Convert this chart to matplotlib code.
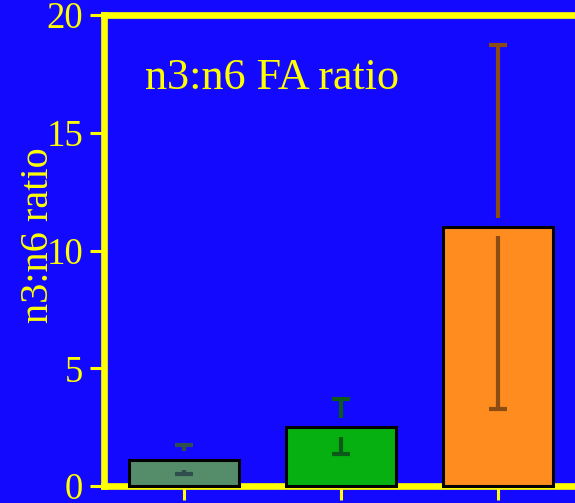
import numpy as np
import matplotlib
matplotlib.use('Agg')
import matplotlib.pyplot as plt

# n3:n6 fatty acid ratio, mean and spread per group
groups = ['A', 'B', 'C']
means = [1.1, 2.5, 11.0]
err_hi = [1.75, 3.7, 18.75]
err_lo = [0.5, 1.35, 3.25]
yticks = [0, 5, 10, 15, 20]

fill_cols = ['#558C69', '#06B010', '#FF8C1E']
err_cols = ['#2F4F4F', '#0B5A1A', '#8B4C14']
bg = '#1409FF'
fg = '#FFFF00'

plt.rcParams['font.family'] = ['Liberation Serif', 'DejaVu Serif']

fig = plt.figure(figsize=(5.75, 5.03), dpi=100, facecolor=bg)
ax = fig.add_axes([0.181, 0.0338, 0.849, 0.936], facecolor=bg)

x = np.arange(len(groups))
ax.bar(x, means, width=0.7, color=fill_cols, edgecolor='black',
       linewidth=2.2, zorder=3, clip_on=False)

# error bars leave a small gap around the bar top
gap = 0.4
for xi, m, hi, lo, c in zip(x, means, err_hi, err_lo, err_cols):
    ax.vlines(xi, m + gap, hi, color=c, lw=3, zorder=4)
    ax.vlines(xi, lo, m - gap, color=c, lw=3, zorder=4)
    ax.plot([xi, xi], [hi, lo], ls='none', marker='_', ms=13, mew=3,
            color=c, zorder=4)

ax.set_xlim(-0.51, 2.6)
ax.set_ylim(0, 20)
ax.set_yticks(yticks)
ax.set_xticks(x)
ax.set_xticklabels([])

for s in ax.spines.values():
    s.set_color(fg)
    s.set_linewidth(4.8)
ax.tick_params(colors=fg, labelsize=26.5, width=2.2, length=10, pad=5)

ax.text(0.084, 0.843, 'n3:n6 FA ratio', transform=ax.transAxes,
        color=fg, fontsize=31.8, va='baseline', ha='left')

ax.set_ylabel('n3:n6 ratio', color=fg, fontsize=29, va='center')
ax.yaxis.set_label_coords(0.067, 0.533, transform=fig.transFigure)

fig.savefig('out.png', dpi=100, facecolor=bg)
